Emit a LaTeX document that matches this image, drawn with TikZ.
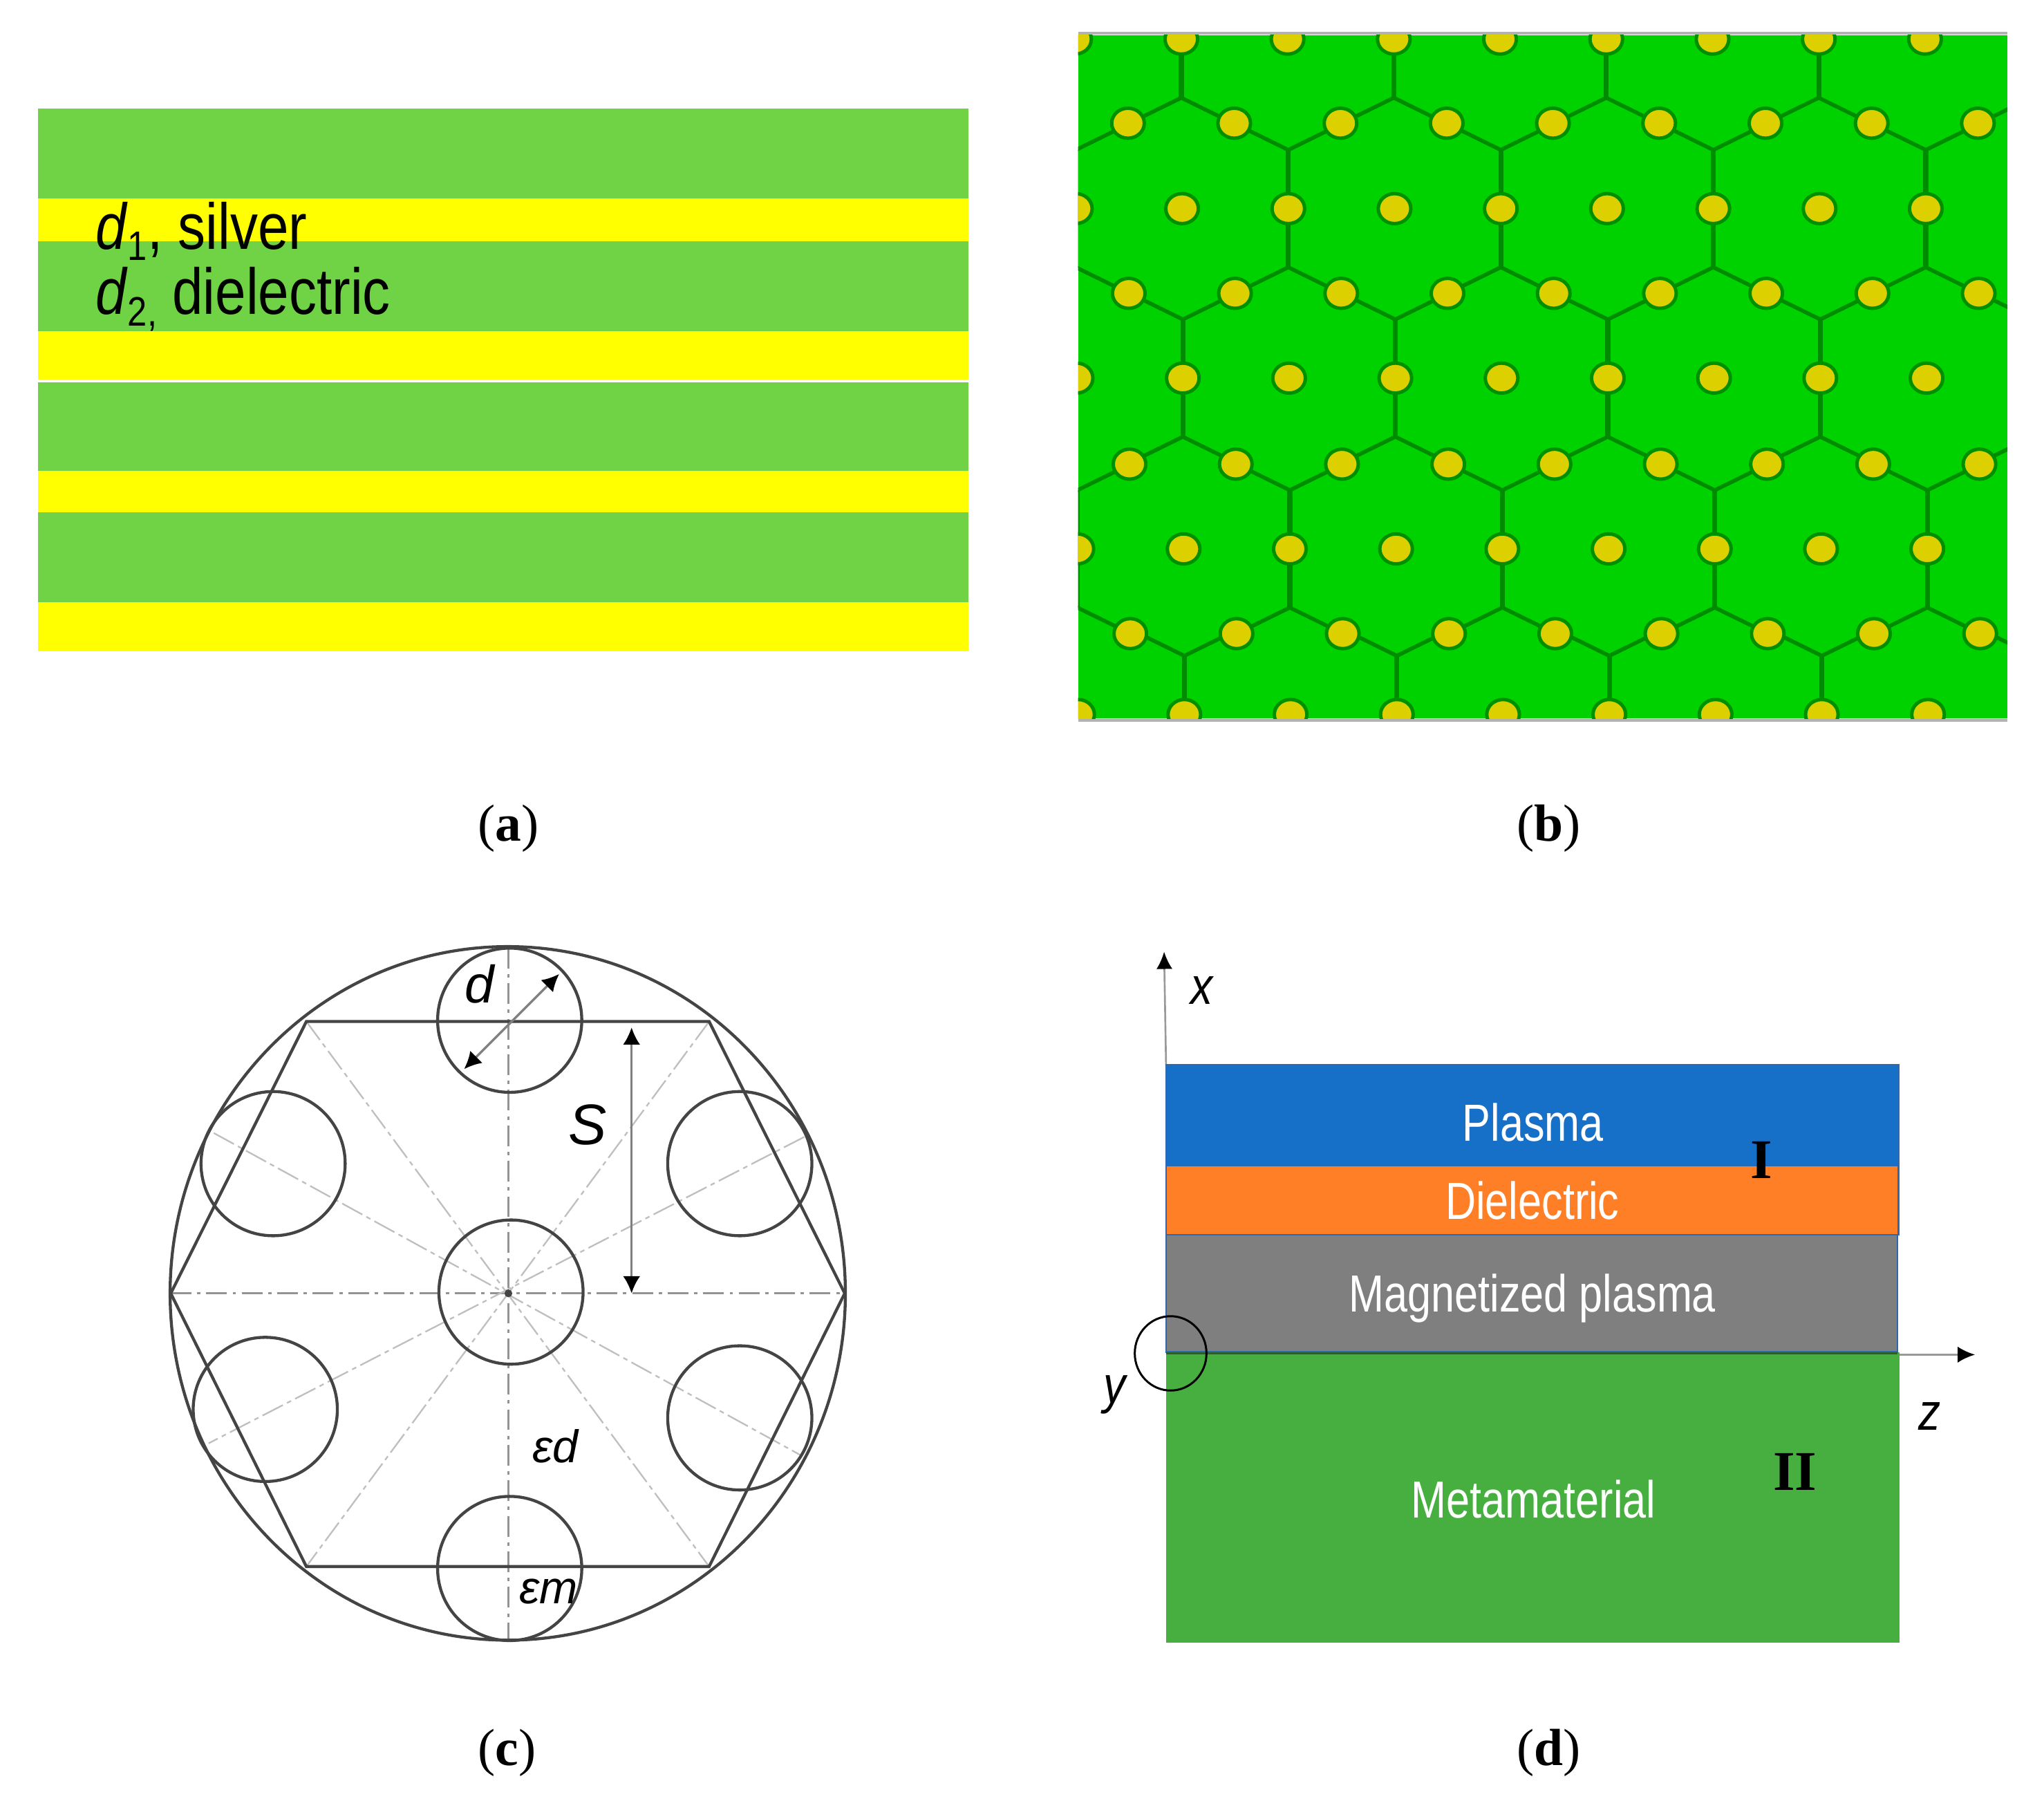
\documentclass[tikz,border=0pt]{standalone}
\usepackage{fontspec}
\usepackage{graphicx}
\usetikzlibrary{arrows.meta}
\setmainfont{Liberation Sans}
\newfontfamily\capserif{Liberation Serif}
\newcommand{\fsz}[1]{\fontsize{#1pt}{#1pt}\selectfont}
\newcommand{\narr}[1]{\scalebox{0.81}[1]{#1}}
\definecolor{lgreen}{HTML}{6FD345}
\definecolor{lyellow}{HTML}{FFFF00}
\definecolor{hexgreen}{HTML}{00D200}
\definecolor{hexline}{HTML}{008C00}
\definecolor{hexring}{HTML}{008F00}
\definecolor{hexdot}{HTML}{DCD000}
\definecolor{inkline}{HTML}{444444}
\definecolor{plasmablue}{HTML}{1670C8}
\definecolor{dielorange}{HTML}{FF7F27}
\definecolor{maggray}{HTML}{7F7F7F}
\definecolor{metagreen}{HTML}{46AF3F}
\definecolor{edgeblue}{HTML}{2F68AE}
\tikzset{
  panellabel/.style={anchor=base,inner sep=0pt,font=\capserif\fsz{22.8}},
  whitetext/.style={anchor=base,inner sep=0pt,text=white,font=\fsz{22.8}},
  blacktext/.style={anchor=base,inner sep=0pt,text=black},
  geo/.style={draw=inkline,line width=1.3pt},
  axisdash/.style={draw=gray!85,line width=0.8pt,dash pattern=on 9pt off 2.5pt on 1.5pt off 2.5pt},
  raydash/.style={draw=gray!50,line width=0.7pt,dash pattern=on 10pt off 2pt on 2pt off 2pt},
  dimarrow/.style={draw=gray,line width=1pt,{Latex[length=7.5pt,width=7.5pt,black]}-{Latex[length=7.5pt,width=7.5pt,black]}},
  axisarrow/.style={draw=gray!80,line width=0.8pt,-{Latex[length=7.5pt,width=7pt,black]}},
}
\begin{document}
\begin{tikzpicture}[x=0.02cm,y=-0.02cm]
\useasboundingbox (0,0) rectangle (1568,1381);
%% ---------- (a)
\foreach \ya/\yb in {83/152,185/254,293/361,393/462}
  \fill[lgreen] (29,\ya) rectangle (743,\yb);
\foreach \ya/\yb in {152/185,254/291,361/393,462/499.5}
  \fill[lyellow] (29,\ya) rectangle (743,\yb);
\node[blacktext,anchor=base west,font=\fsz{28.4}] (aone) at (73,191)
  {\scalebox{0.85}[1]{\textit{d}\raisebox{-5pt}{\fsz{18}1},\ silver}};
\node[blacktext,anchor=base west,font=\fsz{28.4}] (atwo) at (73,241)
  {\scalebox{0.85}[1]{\textit{d}\raisebox{-5pt}{\fsz{18}2,}\ dielectric}};
\node[panellabel] (capa) at (390,645) {(\textbf{a})};
%% ---------- (b)
\fill[hexgreen] (827,27) rectangle (1540,551);
\draw[gray!60,line width=1.2pt] (827,25.5) -- (1540,25.5);
\draw[gray!60,line width=1.2pt] (827,552.5) -- (1540,552.5);
\begin{scope}
\clip (827,27) rectangle (1540,551);
% honeycomb network: vertical bars run through every other dot of the even rows
\begin{scope}[hexline]
\foreach \yy/\st in {30/1,160/0,290/1,421/0,548/1}{
  \foreach \kk in {-2,0,2,4,6,8,10}{
    \pgfmathsetmacro\xx{824.7+81.5*(\kk+\st)+0.0045*(\yy-30)}
    \pgfmathsetmacro\xl{\xx-40.75}
    \pgfmathsetmacro\xr{\xx+40.75}
    \pgfmathsetmacro\yu{\yy-45}
    \pgfmathsetmacro\yd{\yy+45}
    \pgfmathsetmacro\yuu{\yy-65}
    \pgfmathsetmacro\ydd{\yy+65}
    \draw[line width=1.7pt] (\xl,\yuu) -- (\xx,\yu) -- (\xr,\yuu);
    \draw[line width=2.2pt] (\xx,\yu) -- (\xx,\yd);
    \draw[line width=1.7pt] (\xl,\ydd) -- (\xx,\yd) -- (\xr,\ydd);
  }
}
\end{scope}
% dots
\foreach \yy/\xs in {30/824.7,94.5/865,160/824.7,225/865,290/824.7,356/865,421/824.7,486/865,548/824.7}{
  \foreach \kk in {0,...,8}{
    \pgfmathsetmacro\xx{\xs+81.5*\kk+0.0045*(\yy-30)}
    \filldraw[fill=hexdot,draw=hexring,line width=1.5pt] (\xx,\yy) ellipse [x radius=12.5,y radius=11.5];
  }
}
\end{scope}
\node[panellabel] (capb) at (1188,645) {(\textbf{b})};
%% ---------- (c)
\coordinate (cc) at (390,992);
\coordinate (hl) at (131,992);
\coordinate (hr) at (648,992);
\coordinate (htl) at (235,783.5);
\coordinate (htr) at (544,783.5);
\coordinate (hbl) at (235,1201.5);
\coordinate (hbr) at (544,1201.5);
\draw[axisdash] (390,727) -- (390,1257);
\draw[axisdash] (hl) -- (hr);
\draw[raydash] (htl) -- (hbr);
\draw[raydash] (htr) -- (hbl);
\draw[raydash] (164,869) -- (614,1116);
\draw[raydash] (617,872) -- (160,1107);
\fill[inkline] (cc) circle (3);
\draw[geo] (389.5,992) ellipse [x radius=259,y radius=266];
\draw[geo] (hl) -- (htl) -- (htr) -- (hr) -- (hbr) -- (hbl) -- cycle;
\foreach \cx/\cy in {392/991,391/782.5,391/1203,209.5/892.5,567.5/892.5,203.5/1081,567.5/1087.5}
  \draw[geo] (\cx,\cy) circle (55.3);
\coordinate (da) at (356,820);
\coordinate (db) at (429,747);
\draw[dimarrow] (da) -- (db);
\coordinate (sa) at (484.5,788);
\coordinate (sb) at (484.5,992);
\draw[dimarrow] (sa) -- (sb);
\node[blacktext,font=\fsz{23}\itshape] (dlab) at (368,769) {d};
\node[blacktext,font=\fsz{25}\itshape] (slab) at (451,878) {S};
\node[blacktext,font=\fsz{20}\itshape] (edlab) at (426,1122) {εd};
\node[blacktext,font=\fsz{20}\itshape] (emlab) at (421,1230) {εm};
\node[panellabel] (capc) at (389,1354) {(\textbf{c})};
%% ---------- (d)
\coordinate (org) at (894.5,1038);
\coordinate (xtop) at (893,730);
\coordinate (xbase) at (894.5,817);
\coordinate (zbase) at (1456,1039);
\coordinate (ztop) at (1515,1039);
\draw[axisarrow] (xbase) -- (xtop);
\draw[axisarrow] (zbase) -- (ztop);
\fill[metagreen] (894.5,1037) rectangle (1457,1260);
\filldraw[fill=plasmablue,draw=edgeblue,line width=0.8pt] (894.5,817) rectangle (1456.5,894);
\filldraw[fill=dielorange,draw=edgeblue,line width=0.8pt] (894.5,894) rectangle (1456.5,947);
\filldraw[fill=maggray,draw=edgeblue,line width=0.8pt] (894.5,947) rectangle (1455.5,1037);
\draw[draw=black!45!metagreen,line width=1pt] (894.5,1038) -- (1455.5,1038);
\draw[black,line width=0.9pt] (898,1038) ellipse [x radius=27.5,y radius=28.5];
\node[whitetext] (tpl) at (1176,875) {\narr{Plasma}};
\node[whitetext] (tdi) at (1175.5,935) {\narr{Dielectric}};
\node[whitetext] (tma) at (1175.5,1006) {\narr{Magnetized plasma}};
\node[whitetext] (tme) at (1176.5,1164) {\narr{Metamaterial}};
\node[blacktext,font=\fsz{22.8}\itshape] (xlab) at (922,770) {\scalebox{0.85}[1]{x}};
\node[blacktext,font=\fsz{22.8}\itshape] (ylab) at (855,1076) {\scalebox{0.85}[1]{y}};
\node[blacktext,font=\fsz{22.8}\itshape] (zlab) at (1480,1097) {\scalebox{0.85}[1]{z}};
\node[blacktext,font=\capserif\bfseries\fsz{24.5}] (rone) at (1351,904) {I};
\node[blacktext,font=\capserif\bfseries\fsz{24.5}] (rtwo) at (1377,1143) {II};
\node[panellabel] (capd) at (1188,1354) {(\textbf{d})};
\end{tikzpicture}
\end{document}
